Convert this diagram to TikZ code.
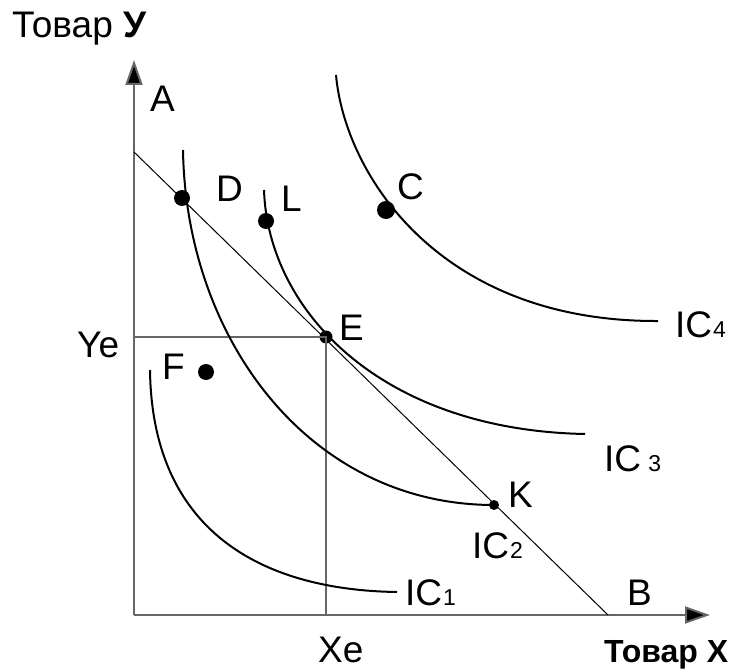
\documentclass[tikz,border=0pt]{standalone}
\usepackage{fontspec}
\setmainfont{Liberation Sans}
\usetikzlibrary{arrows.meta}
\newcommand{\lbl}{\fontsize{37}{42}\selectfont}
\newcommand{\sub}[1]{\kern1pt{\fontsize{23}{26}\selectfont #1}}
\begin{document}
\begin{tikzpicture}[x=1pt,y=-1pt,
  axis/.style={draw=black!60,line width=2pt,-{Triangle[length=25pt,width=17pt,fill=black]}},
  guide/.style={draw=black!60,line width=1.5pt},
  budget/.style={draw=black,line width=1pt},
  ic/.style={draw=black,line width=2pt},
  txt/.style={anchor=base west,inner sep=0pt,font=\lbl},
  pt/.style={circle,fill=black,inner sep=0pt}]
\useasboundingbox (0,0) rectangle (731,669);
% axes
\coordinate (O) at (134,615);
\coordinate (ytop) at (134,60);
\coordinate (xend) at (710,615);
\draw[axis] (O) -- (ytop);
\draw[axis] (O) -- (xend);
% budget line
\coordinate (Aint) at (134,152);
\coordinate (Bint) at (608,615);
\draw[budget] (Aint) -- (Bint);
% points
\node[pt,minimum size=16pt] (D) at (182,198) {};
\node[pt,minimum size=13pt] (E) at (326,337) {};
\node[pt,minimum size=16pt] (L) at (266,221) {};
\node[pt,minimum size=18pt] (C) at (386,210) {};
\node[pt,minimum size=10pt] (K) at (494,505) {};
\node[pt,minimum size=16pt] (F) at (206,372) {};
% guide lines
\coordinate (Ye) at (134,337);
\coordinate (Xe) at (326,615);
\draw[guide] (Ye) -- (E.center) -- (Xe);
% indifference curves
\draw[ic] (336,75) .. controls (345,175) and (440,322) .. (658,321);
\draw[ic] (264,190) .. controls (268,310) and (380,430) .. (585,434);
\draw[ic] (183,150) .. controls (186,340) and (310,505) .. (K.center);
\draw[ic] (150,370) .. controls (152,530) and (260,590) .. (397,592);
% labels
\node[txt] (ty) at (12,38) {Товар \textbf{У}};
\node[txt] (lA) at (150,111) {A};
\node[txt] (lD) at (216,201) {D};
\node[txt] (lL) at (281,211) {L};
\node[txt] (lC) at (397,199) {C};
\node[txt] (lE) at (339,340) {E};
\node[txt] (lYe) at (77,357) {Ye};
\node[txt] (lF) at (162,379) {F};
\node[txt] (lK) at (508,507) {K};
\node[txt] (l4) at (675,337) {IC\sub{4}};
\node[txt] (l3) at (604,471) {IC\,\sub{3}};
\node[txt] (l2) at (472,558) {IC\sub{2}};
\node[txt] (l1) at (405,605) {IC\sub{1}};
\node[txt] (lB) at (627,605) {B};
\node[txt] (lXe) at (318,662) {Xe};
\node[txt,font=\fontsize{32}{36}\selectfont\bfseries] (tx) at (604,662) {Товар X};
\end{tikzpicture}
\end{document}
